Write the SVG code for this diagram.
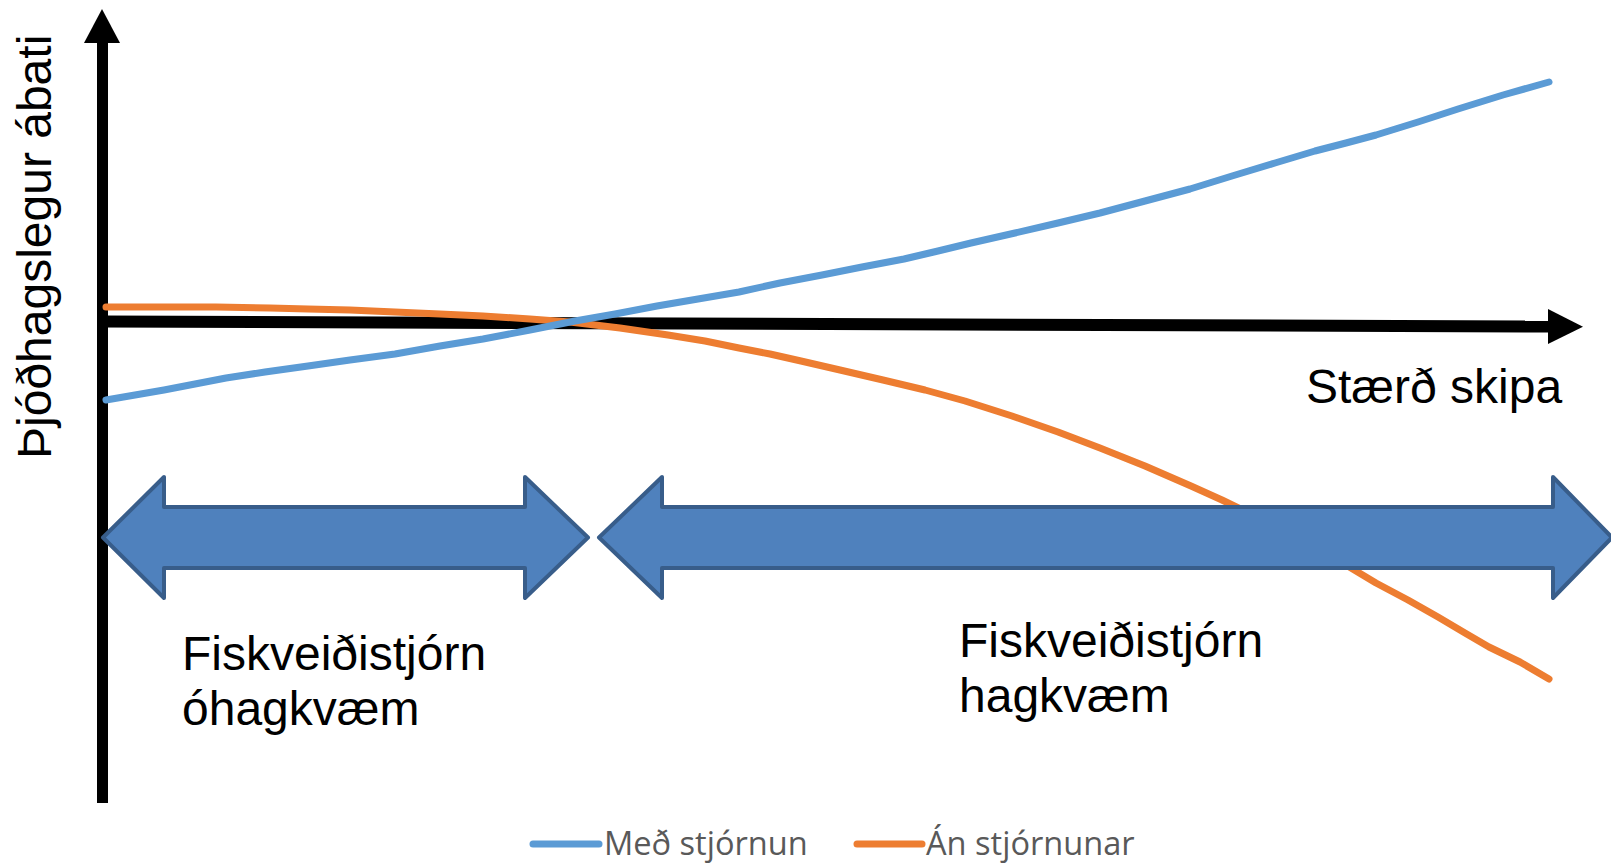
<svg xmlns="http://www.w3.org/2000/svg" width="1611" height="863" viewBox="0 0 1611 863">
<style>
.lbl{font-family:"Liberation Sans",Arial,sans-serif;font-size:48px;fill:#000}
.leg{font-family:"Open Sans","Liberation Sans",sans-serif;font-size:32.6px;fill:#595959}
.curve{fill:none;stroke-width:7;stroke-linecap:round;stroke-linejoin:round}
.blue{stroke:#5B9BD5}
.orange{stroke:#ED7D31}
.dbl{fill:#4F81BD;stroke:#385D8A;stroke-width:4;stroke-linejoin:round}
</style>
<rect width="1611" height="863" fill="#fff"/>
<g id="connectors">
  <g id="y-axis">
    <line x1="102.5" y1="40" x2="102.5" y2="803" stroke="#000" stroke-width="11"/>
    <polygon points="84,43 102,9 120,43" fill="#000"/>
  </g>
  <g id="x-axis">
    <line x1="103" y1="321.5" x2="1550" y2="326.5" stroke="#000" stroke-width="12"/>
    <polygon points="1548,309 1583,326.7 1548,344" fill="#000"/>
  </g>
</g>
<g id="series-orange">
  <polyline class="curve orange" points="106,307 160,307 216,307 270,308 308,309 350,310 395,312 440,314 483,316 530,319 570,322 620,328 668,335 705,341 739,348 770,354 801,361 840,370 883,380 925,390 965,401 1012,416 1058,432 1100,448 1145,466 1191,486 1222,500 1253,515 1285,531 1315,547 1346,565 1376,583 1408,600 1438,617 1465,633 1489,647 1520,662 1549,679"/>
</g>
<g id="series-blue">
  <polyline class="curve blue" points="106,400 135,395 164,390 195,384 226,378 265,372 308,366 350,360 395,354 440,346 483,339 530,330 575,321 615,314 657,306 698,299 739,292 780,283 822,275 862,267 904,259 938,251 971,243 1015,233 1058,223 1100,213 1145,201 1190,189 1232,176 1275,163 1315,151 1346,143 1376,135 1418,122 1458,109 1503,95 1549,82"/>
</g>
<g id="arrow-ohagkvaem">
  <polygon class="dbl" points="103,537.5 164,477 164,507 525,507 525,477 588,537.5 525,598 525,568 164,568 164,598"/>
</g>
<g id="arrow-hagkvaem">
  <polygon class="dbl" points="599,537.5 662,477 662,507 1553,507 1553,477 1612,537.5 1553,598 1553,568 662,568 662,598"/>
</g>
<g id="y-label">
  <text class="lbl" transform="translate(51,459) rotate(-90)">Þjóðhagslegur ábati</text>
</g>
<g id="x-label">
  <text class="lbl" x="1306" y="403">Stærð skipa</text>
</g>
<g id="text-ohagkvaem">
  <text class="lbl" x="182" y="670">Fiskveiðistjórn</text>
  <text class="lbl" x="182" y="725">óhagkvæm</text>
</g>
<g id="text-hagkvaem">
  <text class="lbl" x="959" y="657">Fiskveiðistjórn</text>
  <text class="lbl" x="959" y="712">hagkvæm</text>
</g>
<g id="legend">
  <g id="legend-blue">
    <line x1="533" y1="844" x2="599" y2="844" stroke="#5B9BD5" stroke-width="7" stroke-linecap="round"/>
    <text class="leg" x="604" y="855">Með stjórnun</text>
  </g>
  <g id="legend-orange">
    <line x1="857" y1="844" x2="922" y2="844" stroke="#ED7D31" stroke-width="7" stroke-linecap="round"/>
    <text class="leg" x="926" y="855">Án stjórnunar</text>
  </g>
</g>
</svg>
